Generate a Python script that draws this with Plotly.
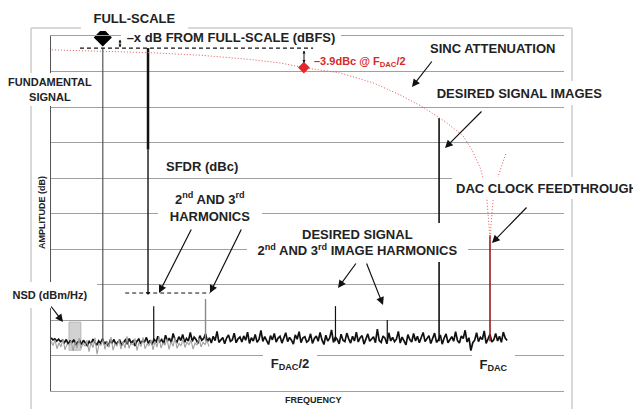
import numpy as np
import plotly.graph_objects as go

FONT = "Liberation Sans, Arial, sans-serif"

# ---------------- data (frequency normalised to F_DAC, amplitude in dB) ----------------
signal_names = ["Fundamental", "HD2", "HD3", "Image HD3", "Image HD2", "Image", "DAC clock"]
signal_freq = [0.118, 0.234, 0.352, 0.648, 0.766, 0.884, 1.0]
signal_db = [-3.4, -76.1, -74.1, -76.1, -80.0, -23.1, -56.1]
signal_colors = ["#555555", "#111111", "#8a8a8a", "#111111", "#111111", "#111111", "#9b1b1b"]
signal_widths = [1.2, 1.2, 1.4, 1.2, 1.2, 1.6, 1.6]
noise_floor_db = -86.0

full_scale_freq = 0.118
full_scale_db = -0.4
fund_level_db = -3.4
fund_level_span = [0.066, 0.597]

sfdr_freq = 0.221
sfdr_db = [-3.4, -32.0, -72.4]
harm_level_db = -72.4
harm_level_span = [0.169, 0.362]

sinc_freq = [0.002, 0.112, 0.226, 0.339, 0.453, 0.522, 0.576, 0.658, 0.734, 0.795,
             0.847, 0.902, 0.939, 0.959, 0.977, 0.989, 0.993, 0.998, 1.0]
sinc_db = [-3.9, -4.2, -4.7, -5.4, -6.6, -7.6, -8.9, -10.4, -13.2, -16.6,
           -20.0, -24.5, -28.2, -32.1, -36.9, -42.0, -46.2, -53.8, -57.5]
sinc2_freq = [1.001, 1.002, 1.007, 1.014, 1.018, 1.036]
sinc2_db = [-57.5, -53.8, -46.2, -42.0, -39.7, -33.2]
sinc_half_freq = 0.576
sinc_half_db = -8.9

nsd_box_freq = [0.041, 0.068]
nsd_box_db = [-80.6, -88.5]

noise_black_db = [
    -85.0, -85.6, -85.3, -85.9, -85.4, -86.1, -85.7, -86.4, -85.5, -86.8, -85.9, -86.3, -85.6, -87.0, -86.2, -85.8, -86.9, -85.7, -86.5, -87.2,
    -86.0, -86.7, -85.4, -86.3, -87.1, -85.9, -86.6, -85.3, -86.8, -86.1, -87.4, -85.8, -86.4, -85.5, -86.9, -86.2, -85.7, -87.0, -86.3, -85.6,
    -86.8, -85.2, -86.5, -85.9, -87.3, -86.0, -85.4, -86.7, -85.8, -86.2, -84.9, -86.6, -85.7, -86.9, -85.3, -86.4, -84.6, -86.1, -85.5, -86.7,
    -84.3, -85.9, -85.1, -86.4, -83.8, -85.6, -86.2, -84.7, -85.8, -84.1, -86.3, -85.2, -85.9, -83.5, -86.0, -84.8, -85.5, -86.6, -84.4, -85.7,
    -85.2, -83.9, -86.1, -85.0, -86.5, -84.6, -85.8, -83.2, -86.3, -85.4, -84.9, -86.7, -85.1, -84.2, -86.0, -85.6, -83.7, -86.4, -85.3, -84.8,
    -86.2, -84.5, -85.7, -83.4, -86.6, -85.0, -85.9, -84.1, -86.3, -85.5, -82.9, -86.0, -84.7, -85.8, -86.9, -84.4, -85.6, -83.8, -86.2, -85.1,
    -84.6, -86.5, -85.3, -83.6, -86.1, -84.9, -85.7, -86.8, -84.2, -85.4, -83.3, -86.4, -85.0, -84.7, -86.2, -85.8, -83.9, -86.6, -85.2, -84.5,
    -86.0, -83.5, -85.6, -86.9, -84.3, -85.9, -85.1, -82.8, -86.3, -84.8, -85.5, -86.7, -84.0, -85.7, -86.1, -83.7, -85.3, -86.5, -84.6, -85.9,
    -83.4, -86.2, -85.0, -84.4, -86.8, -85.6, -83.9, -86.0, -85.2, -84.7, -86.4, -82.6, -85.8, -86.3, -84.5, -85.1, -86.7, -83.6, -85.9, -84.9,
    -86.1, -85.4, -83.2, -86.5, -84.8, -85.7, -87.0, -84.1, -85.5, -86.2, -83.8, -85.9, -84.6, -86.4, -85.0, -83.5, -86.1, -85.3, -84.4, -86.6,
    -85.2, -83.7, -86.3, -85.6, -84.2, -86.8, -85.1, -83.9, -86.4, -85.4, -84.7, -86.0, -83.3, -85.8, -86.5, -84.5, -85.2, -82.9, -86.2, -85.0,
    -88.6, -86.4, -85.7, -83.6, -86.1, -84.9, -85.5, -83.1, -86.6, -85.3, -84.0, -86.2, -85.6, -83.8, -85.9, -84.6, -86.3, -83.4, -85.1, -85.8,
]
noise_black_span = [0.0, 1.039]

noise_gray_db = [
    -86.0, -87.2, -85.6, -88.1, -86.4, -87.6, -85.3, -88.4, -86.8, -87.0, -85.9, -88.7, -86.2, -87.9, -85.1, -88.0, -86.6, -87.4, -85.7, -88.9,
    -86.3, -87.8, -85.0, -89.6, -86.9, -87.1, -85.4, -88.3, -86.1, -87.7, -84.8, -88.5, -86.7, -87.3, -85.5, -88.2, -86.0, -87.9, -84.6, -88.0,
    -86.5, -87.0, -85.2, -88.6, -86.3, -87.5, -84.9, -88.1, -86.8, -87.2, -85.6, -88.4, -86.0, -87.6, -84.7, -87.9, -86.4, -87.1, -85.3, -88.3,
    -86.1, -87.4, -85.0, -88.0, -86.6, -87.3, -85.4, -87.8, -86.2, -87.0, -85.7, -88.2, -86.5, -87.1, -85.1, -87.6, -86.3, -86.9, -85.8, -87.5,
]
noise_gray_span = [0.0, 0.36]

# ---------------- figure ----------------
fig = go.Figure()

# NSD box
fig.add_trace(go.Scatter(
    x=[nsd_box_freq[0], nsd_box_freq[1], nsd_box_freq[1], nsd_box_freq[0], nsd_box_freq[0]],
    y=[nsd_box_db[0], nsd_box_db[0], nsd_box_db[1], nsd_box_db[1], nsd_box_db[0]],
    fill="toself", fillcolor="#d2d2d2", mode="lines", line=dict(color="#b4b4b4", width=1),
    hoverinfo="skip", showlegend=False))

# noise floor
fig.add_trace(go.Scatter(
    x=np.linspace(noise_black_span[0], noise_black_span[1], len(noise_black_db)), y=noise_black_db,
    mode="lines", line=dict(color="#111111", width=1.7), hoverinfo="skip", showlegend=False))
fig.add_trace(go.Scatter(
    x=np.linspace(noise_gray_span[0], noise_gray_span[1], len(noise_gray_db)), y=noise_gray_db,
    mode="lines", line=dict(color="#a0a0a0", width=1.1), hoverinfo="skip", showlegend=False))

# spectral lines
for name, f, db, c, w in zip(signal_names, signal_freq, signal_db, signal_colors, signal_widths):
    fig.add_trace(go.Scatter(x=[f, f], y=[noise_floor_db, db], mode="lines",
                             line=dict(color=c, width=w), name=name, hoverinfo="skip", showlegend=False))

# SFDR measurement line
fig.add_trace(go.Scatter(x=[sfdr_freq, sfdr_freq], y=sfdr_db[:2], mode="lines",
                         line=dict(color="#111111", width=2.5), hoverinfo="skip", showlegend=False))
fig.add_trace(go.Scatter(x=[sfdr_freq, sfdr_freq], y=sfdr_db[1:], mode="lines",
                         line=dict(color="#222222", width=1.5), hoverinfo="skip", showlegend=False))
fig.add_trace(go.Scatter(x=[sfdr_freq], y=[sfdr_db[2]], mode="markers",
                         marker=dict(symbol="triangle-down", size=4, color="#111111"),
                         hoverinfo="skip", showlegend=False))

# dashed reference levels
fig.add_trace(go.Scatter(x=fund_level_span, y=[fund_level_db, fund_level_db], mode="lines",
                         line=dict(color="#111111", width=1.2, dash="4px,3px"), hoverinfo="skip", showlegend=False))
fig.add_trace(go.Scatter(x=harm_level_span, y=[harm_level_db, harm_level_db], mode="lines",
                         line=dict(color="#111111", width=1, dash="4px,3px"), hoverinfo="skip", showlegend=False))

# sinc attenuation curve
fig.add_trace(go.Scatter(x=sinc_freq, y=sinc_db, mode="lines", line=dict(color="#e25555", width=1, dash="1px,2px"),
                         hoverinfo="skip", showlegend=False))
fig.add_trace(go.Scatter(x=sinc2_freq, y=sinc2_db, mode="lines", line=dict(color="#e25555", width=1, dash="1px,2px"),
                         hoverinfo="skip", showlegend=False))

# markers
fig.add_trace(go.Scatter(x=[full_scale_freq], y=[full_scale_db], mode="markers", cliponaxis=False,
                         marker=dict(symbol="diamond", size=14, color="#000000"), hoverinfo="skip", showlegend=False))
fig.add_trace(go.Scatter(x=[sinc_half_freq], y=[sinc_half_db], mode="markers", cliponaxis=False,
                         marker=dict(symbol="diamond", size=9, color="#e8262a"), hoverinfo="skip", showlegend=False))

# ---------------- annotations (pixel helpers for layout only) ----------------
L, R, T, B = 51, 564, 36, 391   # plot area in page pixels
OFF = 8                          # page body margin


def P(x, y):
    return dict(x=(x - L) / (R - L), y=(B - y) / (B - T), xref="paper", yref="paper")


def label(text, cx, cy, size=13, color="#222222", w=None, h=None, bg=None, angle=0):
    d = dict(text=text, showarrow=False, xanchor="center", yanchor="middle", textangle=angle,
             font=dict(family=FONT, size=size, color=color, weight="bold"),
             borderpad=0, borderwidth=0, **P(cx, cy))
    if w:
        d["width"] = w
    if h:
        d["height"] = h
    if bg:
        d["bgcolor"] = bg
    return d


def arrow(hx, hy, tx, ty, size=1.3, width=1.2, side="end"):
    return dict(text="", showarrow=True, arrowhead=2, arrowsize=size, arrowwidth=width,
                arrowcolor="#111111", arrowside=side, ax=tx - hx, ay=ty - hy, standoff=0,
                startstandoff=0, **P(hx, hy))


W = "white"
annotations = [
    label("FULL-SCALE", 134.5, 18.5, w=107, h=25, bg=W),
    label("\u2013x dB FROM FULL-SCALE (dBFS)", 231, 37.5, w=220, h=17, bg=W),
    label("SINC ATTENUATION", 492, 49),
    label("\u20133.9dBc @ F<sub>DAC</sub>/2", 360, 61.5, size=11, color="#d42a2a"),
    label("DESIRED SIGNAL IMAGES", 519.5, 93, w=175, h=24, bg=W),
    label("FUNDAMENTAL<br>SIGNAL", 50, 89.5, size=11, w=90, h=33, bg=W),
    label("SFDR (dBc)", 202, 167),
    label("2<sup>nd</sup> AND 3<sup>rd</sup><br>HARMONICS", 210, 207, w=104, h=36, bg=W),
    label("DESIRED SIGNAL<br>2<sup>nd</sup> AND 3<sup>rd</sup> IMAGE HARMONICS", 357.5, 242.5, w=221, h=39, bg=W),
    label("DAC CLOCK FEEDTHROUGH", 547, 188, w=190, h=22, bg=W),
    label("NSD (dBm/Hz)", 50, 295, size=11, w=94, h=26, bg=W),
    label("F<sub>DAC</sub>/2", 290, 364, w=54, h=24, bg=W),
    label("F<sub>DAC</sub>", 493.5, 365, w=43, h=22, bg=W),
    label("FREQUENCY", 313, 400, size=9),
    label("AMPLITUDE (dB)", 42, 213, size=9, angle=-90),
    arrow(412, 87, 433, 60),
    arrow(445, 148, 483, 110),
    arrow(492, 243, 528, 206),
    arrow(159, 293, 192, 228),
    arrow(210, 293, 242, 228),
    arrow(338, 288, 357, 262),
    arrow(383, 305, 366, 262),
    arrow(63, 322, 50, 305),
    arrow(120, 47.5, 120, 38, size=0.6, width=1, side="end+start"),
    arrow(304, 63, 304, 49, size=0.6, width=1, side="end+start"),
]

# outer light-gray frame
fx0, fx1 = (31 - L) / (R - L), (572 - L) / (R - L)
fy0, fy1 = (B - 415) / (B - T), (B - 28) / (B - T)
frame = dict(color="#cccccc", width=1.5)
shapes = [
    dict(type="line", xref="paper", yref="paper", x0=fx0, x1=fx0, y0=fy0, y1=fy1, line=frame),
    dict(type="line", xref="paper", yref="paper", x0=fx0, x1=fx1, y0=fy1, y1=fy1, line=frame),
    dict(type="line", xref="paper", yref="paper", x0=fx1, x1=fx1, y0=fy0, y1=fy1, line=frame),
]

fig.update_layout(
    width=641 - OFF, height=409 - OFF,
    margin=dict(l=L - OFF, r=641 - R, t=T - OFF, b=409 - B, pad=0),
    paper_bgcolor="white", plot_bgcolor="white",
    showlegend=False,
    xaxis=dict(range=[0, (R - L) / 439.0], showgrid=False, zeroline=False, showticklabels=False,
               ticks="", showline=True, mirror=True, linecolor="#a0a0a0", linewidth=1, fixedrange=True),
    yaxis=dict(range=[-100, 0], tick0=0, dtick=10, showgrid=True, gridcolor="#a0a0a0", gridwidth=1,
               zeroline=False, showticklabels=False, ticks="", showline=True, linecolor="#555555",
               linewidth=1, fixedrange=True),
    annotations=annotations,
    shapes=shapes,
)

fig.write_html("out.html")
